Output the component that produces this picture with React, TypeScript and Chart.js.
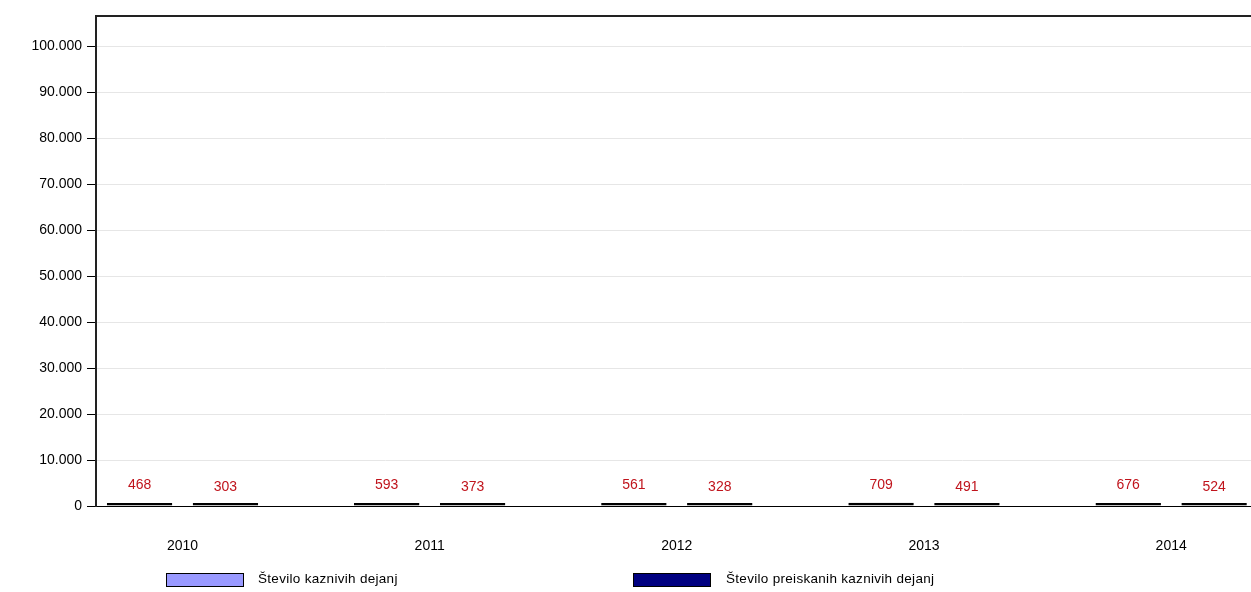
import React, { useEffect, useRef } from "react";
import { Chart, registerables } from "chart.js";

Chart.register(...registerables);

const years = ["2010", "2011", "2012", "2013", "2014"];
const kaznivaDejanja = [468, 593, 561, 709, 676];
const preiskanaDejanja = [303, 373, 328, 491, 524];
const seriesNames = ["Število kaznivih dejanj", "Število preiskanih kaznivih dejanj"];
const seriesColors = ["#9999FF", "#000080"];
const yTickValues = [0, 10000, 20000, 30000, 40000, 50000, 60000, 70000, 80000, 90000, 100000];
const yMax = 106600;

const FONT = "'Liberation Sans', Arial, sans-serif";

function fmt(v: number): string {
  return String(Math.round(v)).replace(/\B(?=(\d{3})+(?!\d))/g, ".");
}

const decorPlugin = {
  id: "decor",
  afterDatasetsDraw(chart: any) {
    const ctx = chart.ctx;
    const area = chart.chartArea;
    ctx.save();
    ctx.strokeStyle = "#222";
    ctx.lineWidth = 2;
    ctx.beginPath();
    ctx.moveTo(area.left - 1, area.top);
    ctx.lineTo(area.right, area.top);
    ctx.stroke();
    ctx.fillStyle = "#C0141C";
    ctx.font = "14px " + FONT;
    ctx.textAlign = "center";
    ctx.textBaseline = "middle";
    chart.data.datasets.forEach((ds: any, di: number) => {
      const meta = chart.getDatasetMeta(di);
      meta.data.forEach((bar: any, i: number) => {
        const v = ds.data[i].y;
        ctx.fillText(String(v), bar.x, bar.base - 20 + di * 2);
      });
    });
    ctx.restore();
  },
};

export default function App() {
  const ref = useRef<HTMLCanvasElement | null>(null);
  useEffect(() => {
    document.body.style.margin = "0";
    const canvas = ref.current!;
    const chart = new Chart(canvas, {
      type: "bar",
      data: {
        datasets: [
          {
            label: seriesNames[0],
            data: kaznivaDejanja.map((v, i) => ({ x: i, y: v })),
            backgroundColor: seriesColors[0],
            borderColor: "#000",
            borderWidth: 2,
            borderSkipped: false,
            minBarLength: 3,
          },
          {
            label: seriesNames[1],
            data: preiskanaDejanja.map((v, i) => ({ x: i, y: v })),
            backgroundColor: seriesColors[1],
            borderColor: "#000",
            borderWidth: 2,
            borderSkipped: false,
            minBarLength: 3,
          },
        ],
      },
      options: {
        animation: false,
        responsive: false,
        devicePixelRatio: 1,
        categoryPercentage: 0.695,
        barPercentage: 0.762,
        layout: { padding: { top: 16, left: 0, right: 0, bottom: 0 } },
        plugins: {
          legend: { display: false },
          tooltip: { enabled: false },
        },
        scales: {
          x: {
            type: "linear",
            offset: false,
            min: -0.35,
            max: 4.323,
            grid: { display: false },
            border: { display: true, color: "#000", width: 1 },
            ticks: {
              stepSize: 1,
              includeBounds: false,
              autoSkip: false,
              maxRotation: 0,
              padding: 24,
              color: "#000",
              font: { family: FONT, size: 14 },
              callback: (v: any) => years[v as number] ?? "",
            },
            afterBuildTicks: (s: any) => {
              s.ticks = years.map((_, i) => ({ value: i }));
            },
            afterFit: (s: any) => {
              s.height = 86;
            },
          },
          y: {
            min: 0,
            max: yMax,
            grid: {
              color: "#e6e6e6",
              tickColor: "#000",
              tickLength: 9,
              lineWidth: 1,
            },
            border: { display: true, color: "#222", width: 2 },
            ticks: {
              padding: 5,
              color: "#000",
              font: { family: FONT, size: 14 },
              callback: (v: any) => fmt(v as number),
            },
            afterBuildTicks: (s: any) => {
              s.ticks = yTickValues.map((v) => ({ value: v }));
            },
            afterFit: (s: any) => {
              s.width = 96;
            },
          },
        },
      },
      plugins: [decorPlugin],
    });
    return () => chart.destroy();
  }, []);

  const legendText: React.CSSProperties = {
    position: "absolute",
    top: 570,
    fontFamily: FONT,
    fontSize: 13.5,
    color: "#000",
    lineHeight: "18px",
    whiteSpace: "nowrap",
    letterSpacing: "0.3px",
  };
  const box = (left: number, color: string): React.CSSProperties => ({
    position: "absolute",
    left,
    top: 573,
    width: 76,
    height: 12,
    background: color,
    border: "1px solid #000",
  });

  return (
    <div style={{ position: "relative", width: 1251, height: 592, overflow: "hidden", background: "#fff" }}>
      <canvas ref={ref} width={1251} height={592} style={{ display: "block" }} />
      <div style={box(166, seriesColors[0])} />
      <div style={{ ...legendText, left: 258 }}>{seriesNames[0]}</div>
      <div style={box(633, seriesColors[1])} />
      <div style={{ ...legendText, left: 726 }}>{seriesNames[1]}</div>
    </div>
  );
}
